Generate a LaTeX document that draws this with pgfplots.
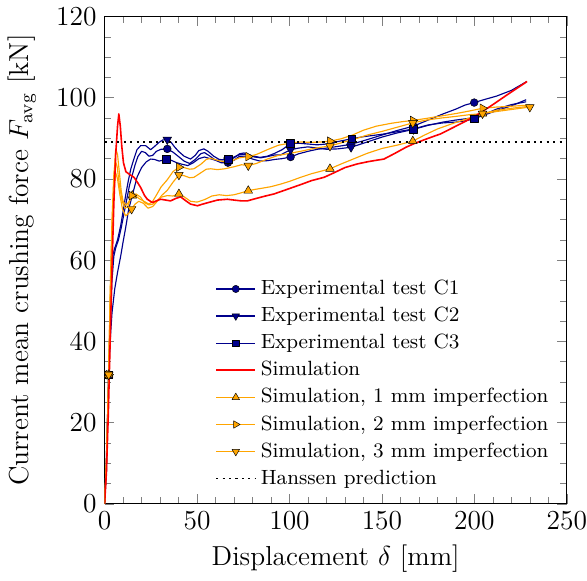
\documentclass[border=0pt]{standalone}
\usepackage{pgfplots}
\pgfplotsset{compat=1.18}
\definecolor{navyb}{RGB}{0,0,140}
\definecolor{orng}{RGB}{255,165,0}
\definecolor{rd}{RGB}{255,0,0}
\begin{document}
\begin{tikzpicture}
\begin{axis}[
  scale only axis, width=202pt, height=213pt,
  xmin=0, xmax=250, ymin=0, ymax=120,
  xtick={0,50,...,250}, ytick={0,20,...,120},
  minor x tick num=4, minor y tick num=3,
  tick label style={font=\large}, label style={font=\large},
  xticklabel style={inner xsep=0pt},
  xlabel={Displacement $\delta$ [mm]},
  ylabel={Current mean crushing force $F_{\mathrm{avg}}$ [kN]},
  ylabel shift=2pt,
  legend style={draw=none, fill=none, font=\small, at={(0.986,0.014)}, anchor=south east},
  legend cell align=left,
  every axis plot/.append style={line join=round},
]
% legend images
\addlegendimage{navyb, line width=0.5pt, mark=*, mark size=1.6pt, mark options={fill=navyb, draw=black, line width=0.2pt}}
\addlegendentry{Experimental test C1}
\addlegendimage{navyb, line width=0.5pt, mark=triangle*, mark size=1.9pt, mark options={rotate=180, fill=navyb, draw=black, line width=0.2pt}}
\addlegendentry{Experimental test C2}
\addlegendimage{navyb, line width=0.5pt, mark=square*, mark size=1.5pt, mark options={fill=navyb, draw=black, line width=0.2pt}}
\addlegendentry{Experimental test C3}
\addlegendimage{rd, line width=0.7pt}
\addlegendentry{Simulation}
\addlegendimage{orng, line width=0.5pt, mark=triangle*, mark size=1.9pt, mark options={fill=orng, draw=black, line width=0.2pt}}
\addlegendentry{Simulation, 1 mm imperfection}
\addlegendimage{orng, line width=0.5pt, mark=triangle*, mark size=1.9pt, mark options={rotate=-90, fill=orng, draw=black, line width=0.2pt}}
\addlegendentry{Simulation, 2 mm imperfection}
\addlegendimage{orng, line width=0.5pt, mark=triangle*, mark size=1.9pt, mark options={rotate=180, fill=orng, draw=black, line width=0.2pt}}
\addlegendentry{Simulation, 3 mm imperfection}
\addlegendimage{black, line width=0.8pt, dash pattern=on 0.9pt off 1.9pt}
\addlegendentry{Hanssen prediction}

% Experimental C1
\addplot[navyb, line width=0.5pt, forget plot] coordinates {
(0,0)(1,10)(2.2,31.8)(3.2,45)(4,55)(5,61)(6,63)(7.5,65)(9,68)(10.5,71.5)(12,75)(13.5,78.5)(15,81)(16.5,83.5)(18,85.5)(20,86.8)(22,86.5)(24,85.6)(26,85.8)(28,86.8)(30.5,87.3)(33.9,87.4)(37,86.6)(40,85.5)(43,84.4)(46,83.8)(49,84.8)(52,86.2)(54,86.5)(57,85.6)(60,84.6)(63,84)(66.7,84)(70,84.6)(73,85.6)(76,85.6)(80,84.9)(84,84.4)(88,84.5)(92,84.8)(96,85)(100.6,85.4)(105,86.2)(110,86.8)(115,87.3)(120,87.6)(126,88)(133,88.5)(140,89.4)(150,90.8)(158,91.9)(167,93)(175,94.5)(183,96)(190,97.2)(195,98.2)(199.9,98.8)(205,99.5)(212,100.4)(220,101.8)(228,103.9)
};
% Experimental C2
\addplot[navyb, line width=0.5pt, forget plot] coordinates {
(0,0)(1,12)(2.2,31.8)(3,46)(3.8,57)(4.6,61.5)(5.5,63)(7,65)(8.7,68.5)(10,72)(11.4,76)(12.8,79.5)(14.2,82.5)(15.9,85)(17.5,87.2)(19.5,88.2)(22.2,88.2)(24.9,87.2)(27,88)(29.4,89)(31.5,89.6)(33.9,89.7)(36,89)(38,87.8)(40,86.8)(43,85.6)(46.5,84.9)(49,85.8)(51,87)(53.7,87.4)(56,86.8)(59,85.6)(62,84.8)(66.7,84.6)(70,85.2)(73,86.2)(75.4,86.4)(78,86)(81,85.4)(84.4,85.2)(88,85.5)(92,85.9)(95.2,85.9)(98,86.6)(100.6,87.2)(105,87.6)(110,87.9)(115,87.6)(120,87.3)(126,87.4)(133.3,87.8)(140,88.8)(150,90.3)(158,91.3)(167,92.2)(175,93.2)(183,94)(190,94.5)(195,94.8)(200,95.1)(206,96)(212,97.2)(220,98.3)(228,99)
};
% Experimental C3
\addplot[navyb, line width=0.5pt, forget plot] coordinates {
(0,0)(1,8)(2.2,31.8)(3,40)(4,47)(5.5,53)(7,57)(8.7,61)(10,64.5)(11.4,68)(13,72.5)(15,76)(17.6,80.5)(20,82.8)(22.5,84.2)(24.9,84.9)(27,84.8)(29.5,84.4)(31.5,84.6)(33.5,84.9)(36,84.6)(39,84)(42,83.6)(45,83.3)(48,84)(51,85)(54,85.4)(57,85)(60,84.6)(63,84.7)(66.7,84.9)(70,85.4)(73,86)(76,86.1)(80,85.7)(84,85.3)(88,85.6)(92,86.3)(96,87.2)(100.6,88.7)(105,88.8)(110,88.6)(115,88.4)(120,88.6)(126,89.2)(133.7,89.9)(140,90.4)(150,91)(158,91.6)(167,92.3)(175,93.3)(183,93.8)(190,94)(195,94.3)(199.9,94.8)(205,95.7)(212,96.8)(220,98)(228,99.5)
};
% Sim 1 mm
\addplot[orng, line width=0.5pt, forget plot] coordinates {
(0,0)(1,12)(2.2,31.8)(3,50)(4,68)(5,80)(6,87.5)(7,86)(8,81.5)(9,77)(10,74.5)(11.5,73.5)(13,74.3)(15,75.9)(17,76.3)(19.5,75.5)(21.5,74.2)(24,73.6)(26,73.8)(28,74.5)(30.5,75.5)(33.9,75.9)(37,75.8)(40.2,76.3)(43,75.6)(46.5,74.5)(50,74.3)(54,74.9)(58,75.8)(62,76.1)(66,75.9)(70,76.1)(74,76.6)(77.7,77.1)(81,77.4)(85,77.7)(90,78.1)(95,78.7)(100,79.4)(106,80.4)(112,81.3)(117,81.9)(121.9,82.5)(128,83.7)(135,85)(142,86.3)(150,87.5)(158,88.3)(166.7,89.3)(173,90.8)(180,92.3)(188,93.6)(196,94.8)(204.4,96.1)(212,96.9)(220,97.4)(230,97.9)
};
% Sim 2 mm
\addplot[orng, line width=0.5pt, forget plot] coordinates {
(0,0)(1,10)(2.2,31.8)(3,52)(4,70)(5,81)(5.8,84.5)(6.8,83)(8,78.5)(9.5,74.5)(11,72.8)(12.5,73.2)(14.6,75.9)(16.5,76)(18.5,75.2)(21.3,74.5)(24,73.8)(26,74.5)(28,76)(30.5,78)(33.9,79.8)(37,81.8)(40.2,82.9)(43,82.8)(46,82.4)(48.3,82.5)(52,83.6)(55,84.8)(57.4,85.1)(61,84.6)(65,84.2)(69,84.5)(73,85.2)(77.7,85.5)(82,86)(88,87.2)(94,88.3)(100,88.8)(106,89.1)(112,89)(117,89.1)(121.9,89.3)(128,89.9)(134,90.8)(140,92)(147,93)(155,93.7)(161,94.1)(166.7,94.4)(174,94.9)(182,95.5)(190,96.1)(197,96.7)(204.4,97.4)(212,97.7)(220,97.9)(230,98.2)
};
% Sim 3 mm
\addplot[orng, line width=0.5pt, forget plot] coordinates {
(0,0)(1,10)(2.2,31.8)(3,50)(4,66)(5,77)(6,81.5)(7,80)(8.3,76)(9.7,72.5)(11.4,70.9)(13,71.5)(14.6,72.6)(16.5,73.8)(18.5,74.5)(21,74)(23.5,72.8)(26,73.2)(28.5,74.5)(31,76)(33.9,77.2)(37,79.2)(40.2,81)(43,80.8)(46,80.3)(48.3,80.4)(52,81.5)(55,82.4)(57.4,82.5)(61,82.3)(65,82.5)(70,83)(74,83.5)(77.7,83.3)(82,83.8)(88,84.9)(94,85.8)(100,86.3)(106,86.8)(112,87.4)(117,87.8)(121.9,88.1)(128,88.9)(135,89.8)(142,90.8)(150,91.7)(158,92.7)(166.7,93.8)(174,94.5)(182,95)(190,95.4)(197,95.8)(204.4,96.1)(212,96.6)(220,97.1)(230,97.7)
};
% Simulation
\addplot[rd, line width=0.7pt, forget plot] coordinates {
(0,0)(1,8)(2,22)(3,40)(4,58)(5,74)(6,86)(7,93)(7.7,96)(8.5,93)(9.3,88)(10.2,84)(11.5,81.8)(13.2,81.2)(15.9,80.4)(18,79)(19.5,77.9)(21.5,76)(23.1,75)(25.8,74.2)(28,74.6)(30.3,75)(33,74.8)(35.7,74.6)(38.5,75.2)(41.1,75.6)(44,74.6)(46.5,73.8)(50.2,73.4)(53,73.8)(57,74.3)(61,74.8)(66.4,75)(70,74.8)(74,74.6)(77.2,74.6)(82,75.2)(87,75.8)(91.6,76.3)(96,77)(101,77.8)(106,78.6)(112,79.6)(118.7,80.4)(124,81.5)(130,82.8)(136.7,83.7)(143,84.3)(151.1,84.9)(157,86.3)(163,87.8)(167.4,88.7)(175,90)(181.8,91.1)(190,93)(199.9,95.3)(210,98.3)(218,100.8)(226.9,103.5)(228.5,104)
};
% Hanssen
\addplot[black, line width=0.8pt, dash pattern=on 0.9pt off 1.9pt, forget plot] coordinates {(0,89.1)(250,89.1)};

% marks
\addplot[only marks, mark=*, mark size=1.7pt, mark options={fill=navyb, draw=black, line width=0.2pt}, forget plot] coordinates {
(2.2,31.8)(33.9,87.4)(66.7,84)(100.6,85.4)(133,88.5)(167,93)(199.9,98.8)};
\addplot[only marks, mark=triangle*, mark size=2.2pt, mark options={rotate=180, fill=navyb, draw=black, line width=0.2pt}, forget plot] coordinates {
(2.2,31.8)(33.9,89.7)(66.7,84.6)(100.6,87.2)(133.3,87.8)(167,92.2)(200,95.1)};
\addplot[only marks, mark=square*, mark size=1.7pt, mark options={fill=navyb, draw=black, line width=0.2pt}, forget plot] coordinates {
(2.2,31.8)(33.5,84.9)(66.7,84.9)(100.6,88.7)(133.7,89.9)(167,92.3)(199.9,94.8)};
\addplot[only marks, mark=triangle*, mark size=2.2pt, mark options={fill=orng, draw=black, line width=0.2pt}, forget plot] coordinates {
(2.2,31.8)(15,75.9)(40.2,76.3)(77.7,77.1)(121.9,82.5)(166.7,89.3)(204.4,96.1)};
\addplot[only marks, mark=triangle*, mark size=2.2pt, mark options={rotate=-90, fill=orng, draw=black, line width=0.2pt}, forget plot] coordinates {
(2.2,31.8)(14.6,75.9)(40.2,82.9)(77.7,85.5)(121.9,89.3)(166.7,94.4)(204.4,97.4)};
\addplot[only marks, mark=triangle*, mark size=2.2pt, mark options={rotate=180, fill=orng, draw=black, line width=0.2pt}, forget plot] coordinates {
(2.2,31.8)(14.6,72.6)(40.2,81)(77.7,83.3)(121.9,88.1)(166.7,93.8)(204.4,96.1)(230,97.7)};
\end{axis}
\end{tikzpicture}
\end{document}
